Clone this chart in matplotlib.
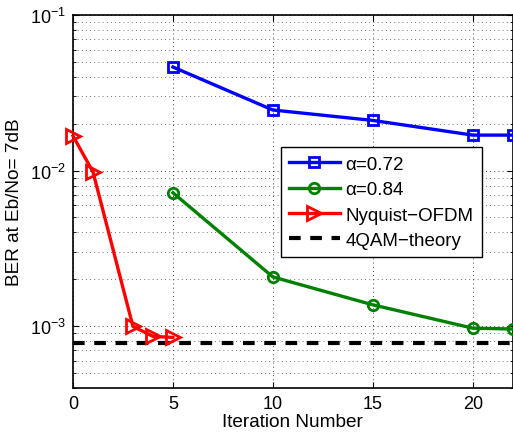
import matplotlib
matplotlib.use("Agg")
import matplotlib.pyplot as plt
from matplotlib.ticker import LogLocator, FixedLocator

plt.rcParams['font.family'] = ['Liberation Sans', 'DejaVu Sans']
plt.rcParams['mathtext.fontset'] = 'custom'
plt.rcParams['mathtext.rm'] = 'Liberation Sans'
plt.rcParams['mathtext.it'] = 'Liberation Sans:italic'

x_a072 = [5, 10, 15, 20, 22]
ber_a072 = [0.0463, 0.0245, 0.0210, 0.0169, 0.0169]
x_a084 = [5, 10, 15, 20, 22]
ber_a084 = [0.00720, 0.00207, 0.00137, 0.00097, 0.000958]
x_nyq = [0, 1, 3, 4, 5]
ber_nyq = [0.0167, 0.0098, 0.000995, 0.000859, 0.000846]
x_theory = [0, 22]
ber_theory = [0.000775, 0.000775]

labels = ['\u03b1=0.72', '\u03b1=0.84', 'Nyquist\u2212OFDM', '4QAM\u2212theory']

fs = 13.5
fig = plt.figure(figsize=(5.13, 4.39), dpi=100)
ax = fig.add_axes([73/513, 1-389/439, (512.7-73)/513, (389-16)/439])

lw = 2.4
ax.plot(x_a072, ber_a072, color='#0000ff', lw=lw, marker='s', ms=7, mfc='none', mew=2, label=labels[0], clip_on=False, zorder=5)
ax.plot(x_a084, ber_a084, color='#008000', lw=lw, marker='o', ms=7.5, mfc='none', mew=2, label=labels[1], clip_on=False, zorder=5)
ax.plot(x_nyq, ber_nyq, color='#ff0000', lw=lw, marker='>', ms=9.5, mfc='none', mew=2, label=labels[2], clip_on=False, zorder=5)
ax.plot(x_theory, ber_theory, color='black', lw=3, ls=(0, (2.8, 2.3)), label=labels[3], zorder=4)

ax.set_yscale('log')
ax.set_xlim(0, 22)
ax.set_ylim(4e-4, 1e-1)
ax.xaxis.set_major_locator(FixedLocator([0, 5, 10, 15, 20]))
ax.yaxis.set_major_locator(LogLocator(base=10, numticks=10))
ax.yaxis.set_minor_locator(LogLocator(base=10, subs=range(2, 10), numticks=20))

ax.grid(True, which='major', ls=(0, (1, 4)), color='black', lw=0.6)
ax.grid(True, which='minor', axis='y', ls=(0, (1, 4)), color='#444444', lw=0.6)
ax.tick_params(which='both', direction='in', labelsize=13, top=True, right=True)
ax.tick_params(which='major', length=4, pad=5)
ax.tick_params(which='minor', length=2)
for s in ax.spines.values():
    s.set_linewidth(1.2)

ax.set_xlabel('Iteration Number', fontsize=13.7, labelpad=1)
ax.set_ylabel('BER at Eb/No= 7dB', fontsize=13.7, labelpad=5)

leg = ax.legend(loc='upper left', bbox_to_anchor=((280.7-73)/439.7, 1-(148.3-16)/373),
                fontsize=fs, handlelength=2.7, frameon=True, fancybox=False,
                edgecolor='black', framealpha=1, borderpad=0.45, labelspacing=0.44,
                handletextpad=0.3, borderaxespad=0)
leg.get_frame().set_linewidth(1.0)

fig.savefig('out.png', dpi=100)
